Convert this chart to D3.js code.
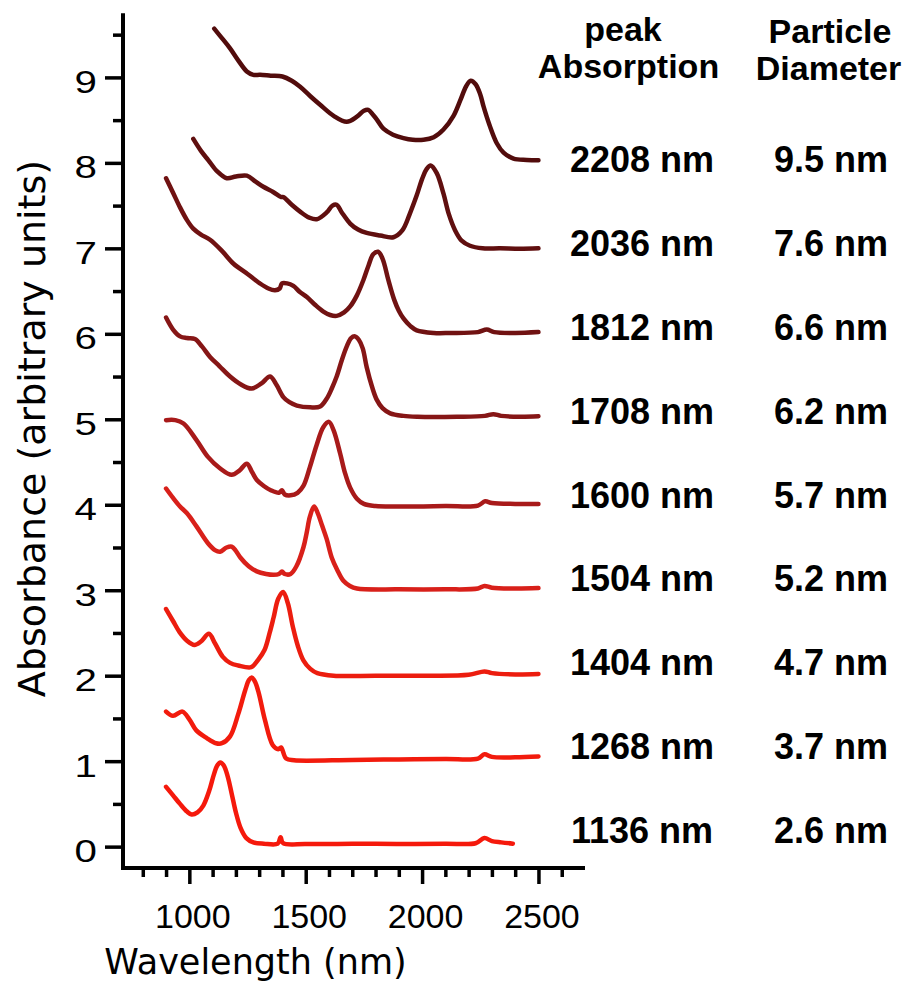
<!DOCTYPE html>
<html>
<head>
<meta charset="utf-8">
<script src="https://cdn.jsdelivr.net/npm/d3@7"></script>
<style>
  html, body { margin: 0; padding: 0; background: #fff; }
  svg { display: block; }
</style>
</head>
<body>
<svg id="chart" width="911" height="983"></svg>
<script>
// Near-IR absorption spectra of nanocrystal samples, each trace offset by one unit.
// Points are [wavelength (nm), absorbance (a.u.)], smallest particles first.
const spec1136 = [[900,0.70],[930,0.60],[960,0.50],[990,0.41],[1010,0.375],[1035,0.40],[1060,0.48],[1085,0.65],[1105,0.84],[1120,0.95],[1133,0.985],[1148,0.95],[1165,0.82],[1182,0.62],[1200,0.40],[1220,0.22],[1245,0.10],[1275,0.05],[1320,0.035],[1380,0.035],[1392,0.11],[1403,0.04],[1500,0.03],[1700,0.035],[1900,0.03],[2100,0.035],[2230,0.04],[2268,0.10],[2300,0.065],[2340,0.05],[2390,0.035]];
const spec1268 = [[900,1.58],[930,1.53],[970,1.58],[1000,1.49],[1030,1.36],[1075,1.27],[1115,1.21],[1140,1.21],[1175,1.29],[1210,1.55],[1240,1.83],[1256,1.95],[1268,1.98],[1282,1.93],[1298,1.80],[1325,1.48],[1358,1.19],[1382,1.14],[1394,1.16],[1416,1.03],[1450,1.01],[1700,1.015],[1900,1.02],[2100,1.025],[2240,1.03],[2268,1.08],[2300,1.05],[2400,1.045],[2500,1.055]];
const spec1404 = [[900,2.78],[930,2.64],[958,2.51],[990,2.41],[1022,2.36],[1050,2.40],[1084,2.49],[1110,2.38],[1144,2.22],[1175,2.15],[1210,2.12],[1266,2.10],[1294,2.18],[1323,2.30],[1345,2.50],[1362,2.68],[1382,2.90],[1403,2.98],[1423,2.85],[1445,2.57],[1466,2.35],[1490,2.18],[1520,2.08],[1550,2.03],[1620,2.00],[1800,2.00],[2000,2.00],[2200,2.01],[2268,2.05],[2300,2.03],[2400,2.015],[2500,2.02]];
const spec1504 = [[900,4.19],[930,4.08],[960,3.98],[990,3.90],[1030,3.75],[1080,3.55],[1110,3.47],[1132,3.45],[1160,3.50],[1182,3.51],[1200,3.46],[1220,3.38],[1255,3.28],[1290,3.22],[1330,3.19],[1362,3.18],[1385,3.19],[1398,3.22],[1410,3.19],[1435,3.19],[1460,3.28],[1490,3.50],[1504,3.67],[1518,3.86],[1536,3.98],[1552,3.90],[1570,3.76],[1590,3.60],[1612,3.38],[1635,3.24],[1662,3.11],[1690,3.05],[1720,3.02],[1900,3.01],[2100,3.01],[2240,3.02],[2268,3.05],[2300,3.03],[2400,3.02],[2500,3.025]];
const spec1600 = [[900,4.99],[940,4.99],[975,4.95],[1030,4.76],[1080,4.56],[1130,4.43],[1182,4.35],[1215,4.40],[1247,4.48],[1270,4.38],[1290,4.29],[1320,4.22],[1350,4.17],[1385,4.14],[1398,4.17],[1410,4.12],[1435,4.11],[1465,4.14],[1490,4.22],[1518,4.44],[1547,4.70],[1576,4.91],[1600,4.97],[1620,4.87],[1648,4.60],[1669,4.37],[1691,4.20],[1720,4.07],[1750,4.01],[1800,3.985],[1900,3.98],[2100,3.985],[2240,3.99],[2271,4.04],[2300,4.02],[2400,4.01],[2500,4.01]];
const spec1708 = [[900,6.19],[930,6.05],[960,5.97],[990,5.95],[1024,5.94],[1055,5.85],[1089,5.73],[1130,5.62],[1175,5.50],[1220,5.41],[1268,5.36],[1310,5.42],[1347,5.50],[1375,5.40],[1404,5.26],[1430,5.20],[1462,5.16],[1520,5.14],[1562,5.15],[1590,5.24],[1612,5.36],[1633,5.50],[1655,5.69],[1676,5.85],[1695,5.95],[1712,5.97],[1728,5.93],[1745,5.83],[1762,5.61],[1785,5.38],[1805,5.23],[1830,5.13],[1863,5.07],[1920,5.04],[1980,5.03],[2150,5.03],[2270,5.04],[2306,5.06],[2340,5.04],[2420,5.03],[2500,5.035]];
const spec1812 = [[900,7.82],[930,7.65],[958,7.49],[990,7.33],[1017,7.23],[1050,7.16],[1089,7.10],[1140,6.97],[1190,6.82],[1250,6.70],[1303,6.59],[1340,6.53],[1368,6.51],[1388,6.53],[1398,6.59],[1420,6.59],[1447,6.56],[1475,6.49],[1505,6.43],[1540,6.34],[1576,6.26],[1605,6.22],[1633,6.21],[1665,6.25],[1691,6.32],[1720,6.45],[1748,6.63],[1770,6.80],[1790,6.93],[1811,6.96],[1830,6.88],[1855,6.63],[1880,6.40],[1900,6.27],[1920,6.18],[1950,6.09],[1977,6.04],[2050,6.01],[2120,6.01],[2240,6.02],[2278,6.05],[2310,6.02],[2400,6.01],[2500,6.02]];
const spec2036 = [[1017,8.28],[1050,8.14],[1082,8.03],[1120,7.90],[1161,7.82],[1200,7.84],[1247,7.85],[1285,7.78],[1318,7.72],[1360,7.66],[1395,7.60],[1404,7.60],[1440,7.51],[1476,7.43],[1515,7.36],[1547,7.34],[1590,7.42],[1615,7.50],[1633,7.51],[1655,7.42],[1691,7.29],[1725,7.22],[1762,7.18],[1820,7.15],[1877,7.13],[1915,7.21],[1948,7.41],[1977,7.62],[2000,7.81],[2020,7.93],[2037,7.97],[2063,7.88],[2092,7.64],[2115,7.40],[2142,7.21],[2170,7.09],[2206,7.03],[2260,7.00],[2335,7.00],[2420,6.995],[2500,7.00]];
const spec2208 = [[1107,9.57],[1140,9.46],[1175,9.34],[1210,9.20],[1247,9.07],[1275,9.03],[1304,9.03],[1350,9.02],[1400,9.01],[1440,8.96],[1476,8.89],[1520,8.78],[1562,8.68],[1620,8.55],[1676,8.48],[1720,8.54],[1750,8.61],[1769,8.62],[1790,8.56],[1805,8.51],[1834,8.40],[1875,8.33],[1920,8.29],[1960,8.27],[2006,8.27],[2050,8.30],[2092,8.39],[2135,8.55],[2164,8.73],[2190,8.90],[2209,8.96],[2230,8.92],[2250,8.80],[2264,8.66],[2290,8.44],[2321,8.23],[2350,8.12],[2393,8.05],[2450,8.035],[2500,8.03]];

const spectra = [spec1136, spec1268, spec1404, spec1504, spec1600, spec1708, spec1812, spec2036, spec2208];
const peakLabels = ["1136 nm","1268 nm","1404 nm","1504 nm","1600 nm","1708 nm","1812 nm","2036 nm","2208 nm"];
const diameterLabels = ["2.6 nm","3.7 nm","4.7 nm","5.2 nm","5.7 nm","6.2 nm","6.6 nm","7.6 nm","9.5 nm"];
const traceColors = ["#f5190c","#f21b0d","#ec1d0f","#d8201a","#a81a1a","#861616","#701212","#600f0f","#520c0c"];

const xMajorTicks = [1000, 1500, 2000, 2500];
const xMinorTicks = [800, 900, 1100, 1200, 1300, 1400, 1600, 1700, 1800, 1900, 2100, 2200, 2300, 2400, 2600];
const yMajorTicks = [0, 1, 2, 3, 4, 5, 6, 7, 8, 9];
const yMinorTicks = [0.5, 1.5, 2.5, 3.5, 4.5, 5.5, 6.5, 7.5, 8.5, 9.5];

const svg = d3.select("#chart");
const x = d3.scaleLinear().domain([715, 2700]).range([123, 585]);
const y = d3.scaleLinear().domain([-0.25, 9.75]).range([868, 13.3]);

// spectra
const line = d3.line()
  .x(d => x(d[0]))
  .y(d => y(d[1]))
  .curve(d3.curveCatmullRom.alpha(0.5));

svg.append("g")
  .selectAll("path")
  .data(spectra)
  .join("path")
  .attr("d", line)
  .attr("fill", "none")
  .attr("stroke", (d, i) => traceColors[i])
  .attr("stroke-width", 4.5)
  .attr("stroke-linejoin", "round")
  .attr("stroke-linecap", "round");

// axes
const tickFont = "'Liberation Sans', Arial, sans-serif";
const axisY0 = y.range()[0];
const axisX0 = x.range()[0];

function styleTicks(g, w) {
  g.select(".domain").remove();
  g.selectAll(".tick line").attr("stroke", "#000").attr("stroke-width", w);
}

svg.append("g")
  .attr("transform", `translate(0,${axisY0})`)
  .call(d3.axisBottom(x).tickValues(xMinorTicks).tickSize(9).tickFormat(() => ""))
  .call(g => styleTicks(g, 3.5));

const gxMajor = svg.append("g")
  .attr("transform", `translate(0,${axisY0})`)
  .call(d3.axisBottom(x).tickValues(xMajorTicks).tickSize(16).tickFormat(d3.format("d")))
  .call(g => styleTicks(g, 3.5));
gxMajor.selectAll(".tick text")
  .attr("y", 60).attr("dy", 0).attr("dx", 3)
  .attr("fill", "#000")
  .style("font-family", tickFont).style("font-size", "34px");

svg.append("g")
  .attr("transform", `translate(${axisX0},0)`)
  .call(d3.axisLeft(y).tickValues(yMinorTicks).tickSize(10).tickFormat(() => ""))
  .call(g => styleTicks(g, 3.5));

const gyMajor = svg.append("g")
  .attr("transform", `translate(${axisX0},0)`)
  .call(d3.axisLeft(y).tickValues(yMajorTicks).tickSize(18).tickFormat(d3.format("d")))
  .call(g => styleTicks(g, 3.5));
gyMajor.selectAll(".tick text")
  .attr("transform", "scale(1.3,1)")
  .attr("x", -20).attr("dy", 15)
  .attr("fill", "#000")
  .style("font-family", tickFont).style("font-size", "31px");

// axis lines
svg.append("path")
  .attr("d", `M${axisX0},${y.range()[1]}V${axisY0}M${axisX0 - 2},${axisY0}H${x.range()[1]}`)
  .attr("fill", "none").attr("stroke", "#000").attr("stroke-width", 4);

// axis titles
const titleFont = "'DejaVu Sans', Verdana, sans-serif";
svg.append("text")
  .attr("x", 255.5).attr("y", 974)
  .attr("text-anchor", "middle")
  .style("font-family", titleFont).style("font-size", "35px")
  .text("Wavelength (nm)");

svg.append("text")
  .attr("transform", "translate(45,428.5) rotate(-90)")
  .attr("text-anchor", "middle")
  .style("font-family", titleFont).style("font-size", "38px")
  .text("Absorbance (arbitrary units)");

// column headers and per-trace annotations
const labelFont = "'Liberation Sans', Arial, sans-serif";
const headers = [
  { t: "peak", x: 623, y: 41 },
  { t: "Absorption", x: 628.5, y: 78 },
  { t: "Particle", x: 830, y: 43 },
  { t: "Diameter", x: 828.5, y: 80 }
];
svg.append("g").selectAll("text").data(headers).join("text")
  .attr("x", d => d.x).attr("y", d => d.y)
  .attr("text-anchor", "middle")
  .style("font-family", labelFont).style("font-weight", "bold").style("font-size", "34px")
  .text(d => d.t);

const rowBottom = 843.3, rowTop = 171.7;
const rowY = i => rowBottom - i * (rowBottom - rowTop) / (peakLabels.length - 1);

const rows = svg.append("g")
  .style("font-family", labelFont).style("font-weight", "bold").style("font-size", "36px")
  .attr("text-anchor", "middle");
rows.selectAll("text.peak").data(peakLabels).join("text")
  .attr("class", "peak")
  .attr("x", 642).attr("y", (d, i) => rowY(i))
  .text(d => d);
rows.selectAll("text.diam").data(diameterLabels).join("text")
  .attr("class", "diam")
  .attr("x", 831).attr("y", (d, i) => rowY(i))
  .text(d => d);
</script>
</body>
</html>
